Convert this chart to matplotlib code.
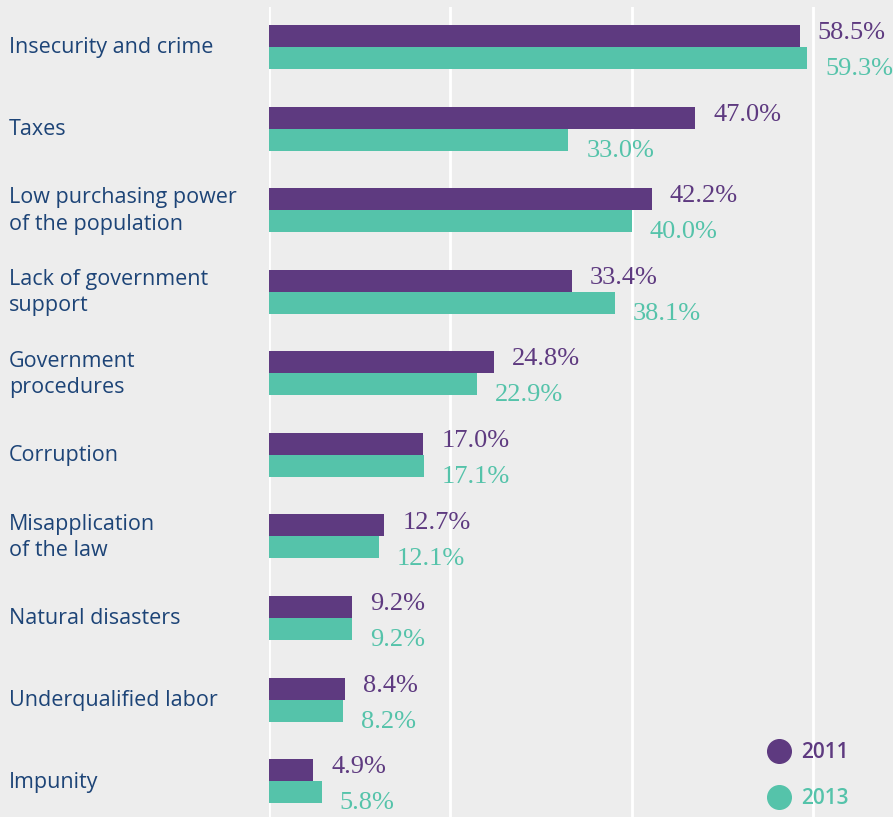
import matplotlib
matplotlib.use('Agg')
import matplotlib.pyplot as plt
from matplotlib.lines import Line2D
import numpy as np

categories = ['Insecurity and crime', 'Taxes', 'Low purchasing power\nof the population',
              'Lack of government\nsupport', 'Government\nprocedures', 'Corruption',
              'Misapplication\nof the law', 'Natural disasters', 'Underqualified labor', 'Impunity']
vals_2011 = [58.5, 47.0, 42.2, 33.4, 24.8, 17.0, 12.7, 9.2, 8.4, 4.9]
vals_2013 = [59.3, 33.0, 40.0, 38.1, 22.9, 17.1, 12.1, 9.2, 8.2, 5.8]
years = ['2011', '2013']

purple = '#5e3a80'
teal = '#55c3aa'
navy = '#1d4477'
bg = '#ededed'

fig = plt.figure(figsize=(8.93, 8.17), dpi=100, facecolor=bg)
W, H = 893, 817
ax = fig.add_axes([269 / W, 0, 1 - 269 / W, 1 - 7 / H])
ax.set_facecolor(bg)

y = np.arange(len(categories))
h = 0.27
ax.barh(y - h / 2, vals_2011, height=h, color=purple, zorder=3)
ax.barh(y + h / 2, vals_2013, height=h, color=teal, zorder=3)

ax.set_xlim(0, (W - 269) / 9.07)
ax.set_ylim(9.44, -0.49)

for gx in [0, 20, 40, 60]:
    ax.axvline(gx, color='white', lw=2, zorder=1)

for i in range(len(categories)):
    ax.annotate(f'{vals_2011[i]:.1f}%', (vals_2011[i], y[i] - h / 2), xytext=(13, 2),
                textcoords='offset points', va='center', ha='left', color=purple,
                fontsize=19, family='Liberation Serif')
    ax.annotate(f'{vals_2013[i]:.1f}%', (vals_2013[i], y[i] + h / 2), xytext=(13, -8),
                textcoords='offset points', va='center', ha='left', color=teal,
                fontsize=19, family='Liberation Serif')
    fig.text(9 / W, 1 - (48 + i * 81.56) / H, categories[i], ha='left', va='center',
             color=navy, fontsize=15.5, family='Open Sans', linespacing=1.33)

for s in ax.spines.values():
    s.set_visible(False)
ax.set_xticks([])
ax.set_yticks([])

handles = [Line2D([], [], marker='o', ls='', markersize=17, color=c) for c in (purple, teal)]
leg = fig.legend(handles, years, loc='center left', bbox_to_anchor=(739 / W, 1 - 776 / H),
                 frameon=False, handletextpad=0.1, labelspacing=1.2,
                 prop={'family': 'Open Sans', 'weight': 'semibold', 'size': 15})
for t, c in zip(leg.get_texts(), (purple, teal)):
    t.set_color(c)

fig.savefig('out.png', dpi=100, facecolor=bg)
